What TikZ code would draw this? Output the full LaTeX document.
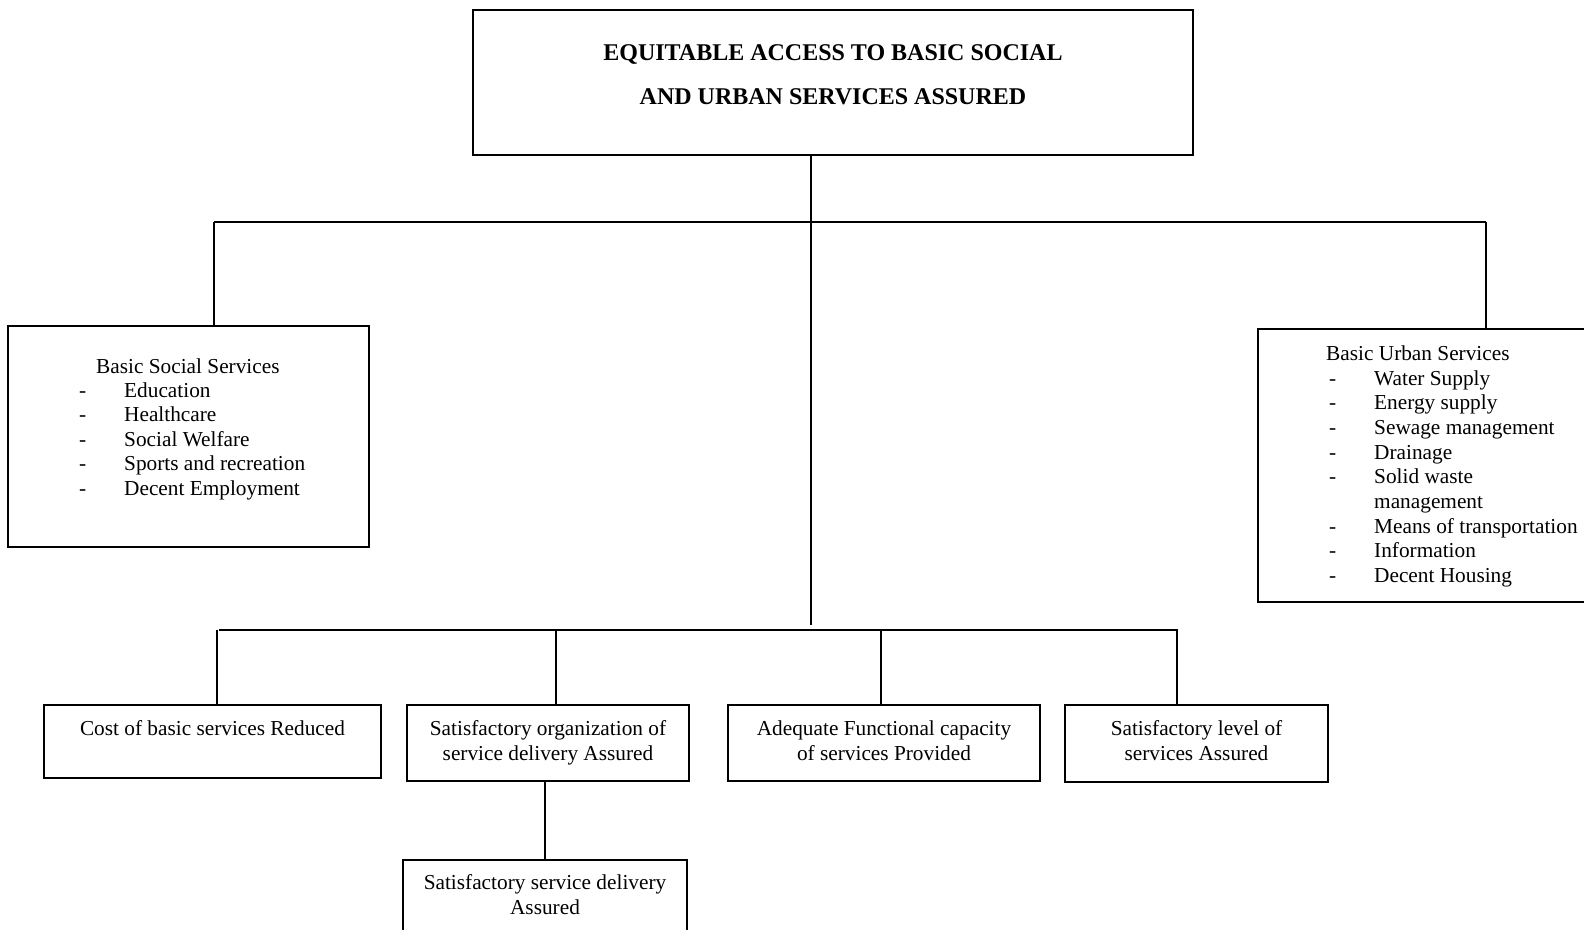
\documentclass[tikz,border=0pt]{standalone}
\usepackage{fontspec}
\setmainfont{Liberation Serif}
\begin{document}
\begin{tikzpicture}[x=1pt,y=-1pt,
  box/.style={draw, line width=1.5pt, inner sep=0pt, rectangle},
  link/.style={line width=1.5pt},
  txt/.style={inner sep=0pt, font=\fontsize{21.3}{24.4}\selectfont},
  pairtxt/.style={inner sep=0pt, anchor=base, font=\fontsize{21.3}{25.3}\selectfont},
]
\clip (0,0) rectangle (1584,929);

% boxes
\node[box, minimum width=720pt, minimum height=145pt] (top)    at (833,82.5)   {};
\node[box, minimum width=361pt, minimum height=221pt] (social) at (188.5,436.5) {};
\node[box, minimum width=334pt, minimum height=273pt] (urban)  at (1425,465.5) {};
\node[box, minimum width=337pt, minimum height=73pt]  (cost)   at (212.5,741.5) {};
\node[box, minimum width=282pt, minimum height=76pt]  (org)    at (548,743)    {};
\node[box, minimum width=312pt, minimum height=76pt]  (adeq)   at (884,743)    {};
\node[box, minimum width=263pt, minimum height=77pt]  (level)  at (1196.5,743.5) {};
\node[box, minimum width=284pt, minimum height=75pt]  (deliv)  at (545,897.5)  {};

% texts
\node[txt, anchor=base] (toptext) at (833,60.5)
  {\bfseries\fontsize{24}{43.5}\selectfont\begin{tabular}[t]{@{}c@{}}EQUITABLE ACCESS TO BASIC SOCIAL\\ AND URBAN SERVICES ASSURED\end{tabular}};

\node[txt, anchor=base west] (soclist) at (79,373)
  {\begin{tabular}[t]{@{}p{45pt}@{}l@{}}
   \multicolumn{2}{@{\hspace{17pt}}l@{}}{Basic Social Services}\\
   -&Education\\
   -&Healthcare\\
   -&Social Welfare\\
   -&Sports and recreation\\
   -&Decent Employment
   \end{tabular}};

\node[txt, anchor=base west, font=\fontsize{21.3}{24.65}\selectfont] (urblist) at (1329,360.5)
  {\begin{tabular}[t]{@{}p{45pt}@{}l@{}}
   \multicolumn{2}{@{\hspace{-3pt}}l@{}}{Basic Urban Services}\\
   -&Water Supply\\
   -&Energy supply\\
   -&Sewage management\\
   -&Drainage\\
   -&Solid waste\\
    &management\\
   -&Means of transportation\\
   -&Information\\
   -&Decent Housing
   \end{tabular}};

\node[pairtxt] (costtext)  at (212.5,735) {\begin{tabular}[t]{@{}c@{}}Cost of basic services Reduced\end{tabular}};
\node[pairtxt] (orgtext)   at (548,735)   {\begin{tabular}[t]{@{}c@{}}Satisfactory organization of\\ service delivery Assured\end{tabular}};
\node[pairtxt] (adeqtext)  at (884,735)   {\begin{tabular}[t]{@{}c@{}}Adequate Functional capacity\\ of services Provided\end{tabular}};
\node[pairtxt] (leveltext) at (1196.5,735) {\begin{tabular}[t]{@{}c@{}}Satisfactory level of\\ services Assured\end{tabular}};
\node[pairtxt] (delivtext) at (545,889)   {\begin{tabular}[t]{@{}c@{}}Satisfactory service delivery\\ Assured\end{tabular}};

% junction points
\coordinate (hub)  at (811,222);
\coordinate (busL) at (214,222);
\coordinate (busR) at (1486,222);
\coordinate (hub2) at (811,625);
\coordinate (lowL) at (219,630);
\coordinate (lowR) at (1178,630);
\coordinate (dCost)  at (217,630);
\coordinate (dOrg)   at (556,630);
\coordinate (dAdeq)  at (881,630);
\coordinate (dLevel) at (1177,630);

% connectors
\draw[link] (top.south -| hub) -- (hub);
\draw[link] (busL) -- (busR);
\draw[link] (busL) -- (busL |- social.north);
\draw[link] (busR) -- (busR |- urban.north);
\draw[link] (hub) -- (hub2);
\draw[link] (lowL) -- (lowR);
\draw[link] (dCost)  -- (dCost |- cost.north);
\draw[link] (dOrg)   -- (dOrg |- org.north);
\draw[link] (dAdeq)  -- (dAdeq |- adeq.north);
\draw[link] (dLevel) -- (dLevel |- level.north);
\draw[link] (deliv.north) -- (deliv.north |- org.south);
\end{tikzpicture}
\end{document}
